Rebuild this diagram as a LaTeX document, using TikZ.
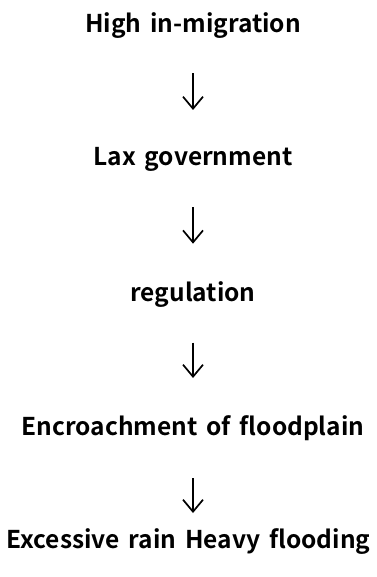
\documentclass[tikz,border=0pt]{standalone}
\usepackage{fontspec}
\setmainfont{Noto Sans CJK KR}[BoldFont={* Bold},WordSpace={1.6}]
\usetikzlibrary{arrows.meta}
\begin{document}
\begin{tikzpicture}[x=1pt,y=-1pt,
  lbl/.style={inner sep=0pt,anchor=base,font=\fontsize{24.5}{28}\selectfont\bfseries},
  arr/.style={line width=1.7pt,-{Straight Barb[length=12pt,width=20pt,line width=1.7pt]}}]
\useasboundingbox (0,0) rectangle (376,577);
\node[lbl] (a) at (193,32.3) {High in-migration};
\node[lbl] (b) at (193,166) {Lax government};
\node[lbl] (c) at (193,301.7) {regulation};
\node[lbl] (d) at (193,435) {Encroachment of floodplain};
\node[lbl] (e) at (188.5,548) {Excessive rain Heavy flooding};
\draw[arr,shorten <=41pt,shorten >=56pt] (a.base) -- (b.base);
\draw[arr,shorten <=41pt,shorten >=58pt] (b.base) -- (c.base);
\draw[arr,shorten <=41pt,shorten >=57pt] (c.base) -- (d.base);
\draw[arr,shorten <=43pt,shorten >=35pt] (d.base) -- (d.base |- e.base);
\end{tikzpicture}
\end{document}
